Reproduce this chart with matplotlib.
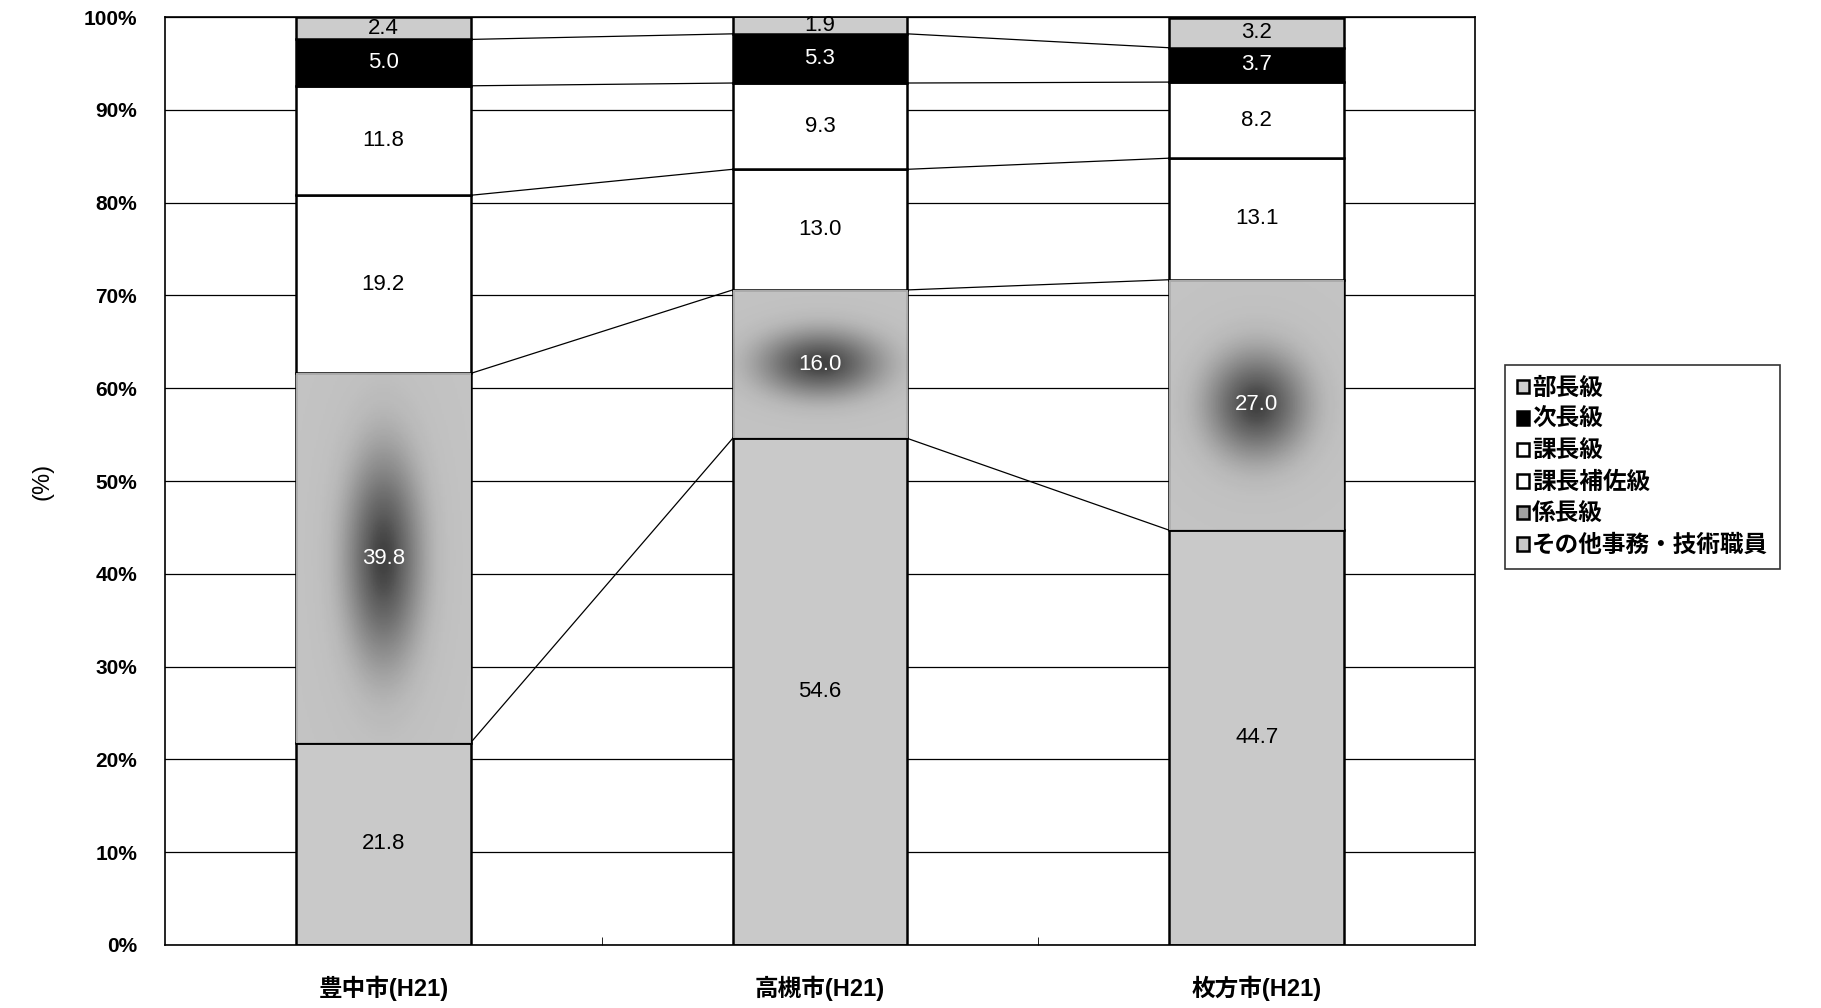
import matplotlib.pyplot as plt
import numpy as np
from matplotlib.ticker import PercentFormatter

plt.rcParams['font.family'] = ['Liberation Sans', 'Noto Sans CJK JP', 'DejaVu Sans']

cities = ["豊中市(H21)", "高槻市(H21)", "枚方市(H21)"]
# stacking order, bottom to top
ranks = ["その他事務・技術職員", "係長級", "課長補佐級", "課長級", "次長級", "部長級"]
sonota = [21.8, 54.6, 44.7]
kakaricho = [39.8, 16.0, 27.0]
hosa = [19.2, 13.0, 13.1]
kacho = [11.8, 9.3, 8.2]
jicho = [5.0, 5.3, 3.7]
bucho = [2.4, 1.9, 3.2]

series = [sonota, kakaricho, hosa, kacho, jicho, bucho]
fills = ["#c9c9c9", "#a0a0a0", "white", "white", "black", "#cccccc"]
text_colors = ["black", "white", "black", "black", "white", "black"]
# darker patch in the middle of the 係長級 segment: (x scale, y scale) of the blob
blob_shape = [(0.10, 13.0), (0.16, 4.0), (0.13, 6.5)]

width = 0.4
x = np.arange(len(cities))

fig = plt.figure(figsize=(18.21, 10.08), dpi=100)
ax = fig.add_axes([0.0906, 0.0625, 0.7194, 0.9205])

ax.set_axisbelow(True)
ax.yaxis.grid(True, color="black", linewidth=0.9)

bottom = np.zeros(len(cities))
handles = []
for k, vals in enumerate(series):
    vals = np.array(vals)
    bars = ax.bar(x, vals, width, bottom=bottom, color=fills[k],
                  edgecolor="black", linewidth=1.8, label=ranks[k], zorder=2)
    handles.append(bars)
    if ranks[k] == "係長級":
        yy, xx = np.mgrid[0:1:200j, 0:1:100j]
        for i, bar in enumerate(bars):
            b0, h = bottom[i], vals[i]
            sx, sy = blob_shape[i]
            xs = (xx - 0.5) * width
            ys = yy * h - h / 2
            shade = np.exp(-((xs / sx) ** 2 + (ys / sy) ** 2) * 1.4)
            img = ax.imshow(shade, cmap="Greys", vmin=-0.6, vmax=1.3,
                            extent=[x[i] - width / 2, x[i] + width / 2, b0, b0 + h],
                            origin="lower", aspect="auto", zorder=2.5, alpha=0.85)
            img.set_clip_path(bar)
    for i, v in enumerate(vals):
        ax.text(x[i], bottom[i] + v / 2, f"{v:.1f}", ha="center", va="center",
                fontsize=16, color=text_colors[k], zorder=4)
    bottom = bottom + vals

# series lines between neighbouring bars
levels = np.cumsum(np.array(series), axis=0)[:-1]
for i in range(len(cities) - 1):
    for lvl in levels:
        ax.plot([x[i] + width / 2, x[i + 1] - width / 2], [lvl[i], lvl[i + 1]],
                color="black", linewidth=0.9, zorder=1.5)

ax.set_xlim(-0.5, len(cities) - 0.5)
ax.set_ylim(0, 100)
ax.set_yticks(np.arange(0, 101, 10))
ax.yaxis.set_major_formatter(PercentFormatter(decimals=0))
ax.tick_params(axis="y", length=0, pad=20, labelsize=15)
for t in ax.get_yticklabels():
    t.set_fontweight("bold")
ax.set_xticks(x)
ax.set_xticklabels(cities, fontsize=17, fontweight="bold")
ax.tick_params(axis="x", length=0, pad=22)
ax.set_xticks(np.arange(0.5, len(cities) - 1, 1), minor=True)
ax.tick_params(axis="x", which="minor", length=6, direction="in")
for s in ax.spines.values():
    s.set_linewidth(1.2)

ax.set_ylabel("(%)", fontsize=17, labelpad=22)

leg = fig.legend(handles[::-1], ranks[::-1], loc="upper left",
                 bbox_to_anchor=(1505 / 1821, 1 - 365 / 1008),
                 prop={"size": 17, "weight": "bold"},
                 frameon=True, fancybox=False, edgecolor="black",
                 handlelength=0.5, handleheight=0.5, handletextpad=0.15,
                 labelspacing=0.36, borderpad=0.5, borderaxespad=0)
leg.get_frame().set_linewidth(1.2)

fig.savefig("out.png", dpi=100)
